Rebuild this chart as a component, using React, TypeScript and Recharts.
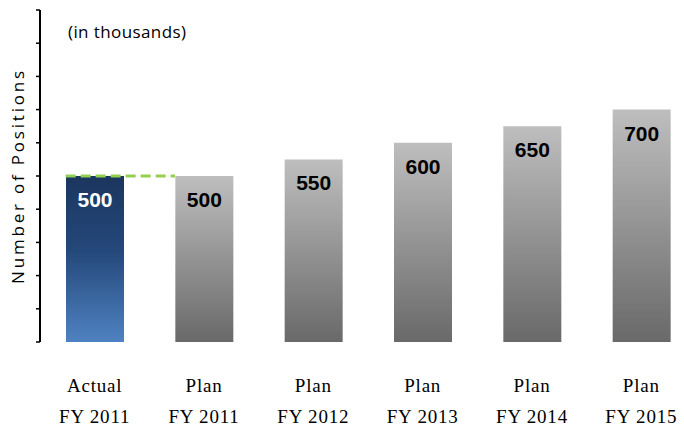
import { BarChart, Bar, XAxis, YAxis, ReferenceLine, LabelList, Cell } from 'recharts';

const categories = ['Actual FY 2011', 'Plan FY 2011', 'Plan FY 2012', 'Plan FY 2013', 'Plan FY 2014', 'Plan FY 2015'];
const positions = [500, 500, 550, 600, 650, 700];
const yTicks = [0, 100, 200, 300, 400, 500, 600, 700, 800, 900, 1000];

const chartData = categories.map((name, i) => ({ name, value: positions[i] }));

const BAR_SIZE = 58;

function CategoryTick({ x, y, payload }: any) {
  const [first, ...rest] = String(payload.value).split(' ');
  return (
    <g transform={`translate(${x},${y})`}>
      <text textAnchor="middle" fontFamily="'Liberation Serif', serif" fontSize={19} letterSpacing={0.8} fill="#000">
        <tspan x={0} dy={42}>{first}</tspan>
        <tspan x={0} dy={31}>{rest.join(' ')}</tspan>
      </text>
    </g>
  );
}

// dashed marker from the left edge of the actual bar to the left edge of the first plan bar
function DashMarker({ x1, y1, x2, y2 }: any) {
  return (
    <line
      x1={x1 - BAR_SIZE / 2}
      x2={x2 - BAR_SIZE / 2}
      y1={y1}
      y2={y2}
      stroke="#92D050"
      strokeWidth={3}
      strokeDasharray="10 5"
    />
  );
}

export default function App() {
  return (
    <div style={{ position: 'fixed', left: 0, top: 0, width: 684, height: 426, overflow: 'hidden', background: '#fff' }}>
      <BarChart
        width={712}
        height={426}
        data={chartData}
        margin={{ top: 10, right: 16, bottom: 0, left: 0 }}
        barSize={BAR_SIZE}
      >
        <defs>
          <linearGradient id="actualFill" x1="0" y1="0" x2="0" y2="1">
            <stop offset="0%" stopColor="#1B365F" />
            <stop offset="45%" stopColor="#24487A" />
            <stop offset="100%" stopColor="#4F82C2" />
          </linearGradient>
          <linearGradient id="planFill" x1="0" y1="0" x2="0" y2="1">
            <stop offset="0%" stopColor="#BEBEBE" />
            <stop offset="100%" stopColor="#696969" />
          </linearGradient>
        </defs>
        <XAxis
          dataKey="name"
          axisLine={false}
          tickLine={false}
          tick={<CategoryTick />}
          height={84}
          interval={0}
        />
        <YAxis
          type="number"
          domain={[0, 1000]}
          ticks={yTicks}
          width={40}
          axisLine={{ stroke: '#000', strokeWidth: 2 }}
          tickLine={{ stroke: '#000', strokeWidth: 1.5 }}
          tickSize={4}
          tick={() => <g />}
          label={{
            value: 'Number of Positions',
            angle: -90,
            position: 'insideLeft',
            offset: 0,
            dx: 18,
            style: { fontFamily: "'Open Sans', sans-serif", fontSize: 17, letterSpacing: 2.8, fill: '#000', textAnchor: 'middle' },
          }}
        />
        <ReferenceLine
          segment={[{ x: categories[0], y: positions[0] }, { x: categories[1], y: positions[0] }]}
          shape={<DashMarker />}
        />
        <Bar dataKey="value" isAnimationActive={false}>
          {chartData.map((d, i) => (
            <Cell key={d.name} fill={i === 0 ? 'url(#actualFill)' : 'url(#planFill)'} />
          ))}
          <LabelList
            dataKey="value"
            position="insideTop"
            offset={14}
            content={({ x, y, width, value, index }: any) => (
              <text
                x={x + width / 2}
                y={y + 31}
                textAnchor="middle"
                fontFamily="'Liberation Sans', Arial, sans-serif"
                fontWeight="bold"
                fontSize={21}
                fill={index === 0 ? '#fff' : '#000'}
              >
                {value}
              </text>
            )}
          />
        </Bar>
      </BarChart>
      <div
        style={{
          position: 'absolute',
          left: 68,
          top: 20,
          fontFamily: "'Open Sans', sans-serif",
          fontSize: 17,
          letterSpacing: 0.4,
          color: '#000',
        }}
      >
        (in thousands)
      </div>
    </div>
  );
}
